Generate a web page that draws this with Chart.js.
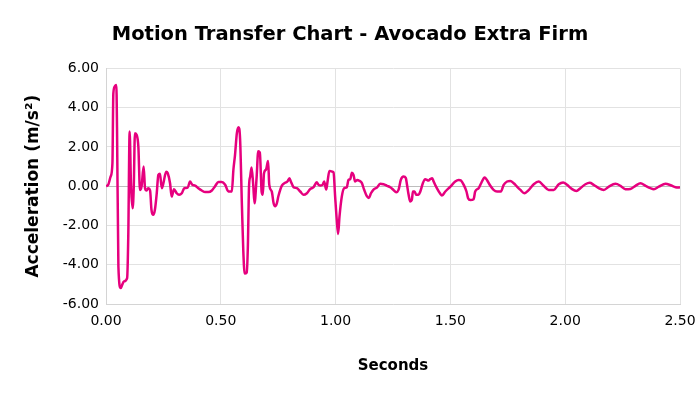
<!DOCTYPE html>
<html>
<head>
<meta charset="utf-8">
<script src="https://cdn.jsdelivr.net/npm/chart.js@4"></script>
<style>
  html, body { margin: 0; padding: 0; background: #fff; }
  #wrap { width: 700px; height: 394px; }
</style>
</head>
<body>
<div id="wrap"><canvas id="chart" width="700" height="394"></canvas></div>
<script>
const seconds = [
  0.000, 0.010, 0.020, 0.028, 0.032, 0.039, 0.045, 0.048, 0.054, 0.064,
  0.068, 0.078, 0.092, 0.097, 0.103, 0.109, 0.116, 0.121, 0.126, 0.134,
  0.141, 0.148, 0.155, 0.164, 0.170, 0.177, 0.183, 0.192, 0.198, 0.206,
  0.213, 0.221, 0.228, 0.235, 0.243, 0.250, 0.262, 0.269, 0.279, 0.286,
  0.296, 0.308, 0.318, 0.330, 0.341, 0.356, 0.366, 0.376, 0.388, 0.402,
  0.417, 0.432, 0.446, 0.461, 0.475, 0.490, 0.504, 0.519, 0.533, 0.548,
  0.555, 0.562, 0.570, 0.577, 0.584, 0.592, 0.598, 0.604, 0.613, 0.618,
  0.623, 0.628, 0.634, 0.641, 0.647, 0.656, 0.663, 0.670, 0.678, 0.683,
  0.688, 0.697, 0.706, 0.711, 0.722, 0.730, 0.737, 0.744, 0.751, 0.766,
  0.780, 0.790, 0.799, 0.805, 0.817, 0.831, 0.846, 0.860, 0.875, 0.889,
  0.904, 0.918, 0.925, 0.935, 0.944, 0.950, 0.959, 0.965, 0.973, 0.983,
  0.991, 0.998, 1.005, 1.011, 1.017, 1.027, 1.037, 1.049, 1.056, 1.064,
  1.071, 1.078, 1.085, 1.095, 1.104, 1.114, 1.124, 1.136, 1.145, 1.154,
  1.165, 1.180, 1.194, 1.209, 1.224, 1.238, 1.252, 1.264, 1.274, 1.284,
  1.296, 1.306, 1.311, 1.318, 1.325, 1.332, 1.337, 1.344, 1.351, 1.361,
  1.369, 1.380, 1.390, 1.405, 1.412, 1.421, 1.427, 1.441, 1.456, 1.463,
  1.478, 1.500, 1.521, 1.536, 1.546, 1.558, 1.570, 1.577, 1.587, 1.601,
  1.608, 1.623, 1.634, 1.649, 1.659, 1.674, 1.688, 1.703, 1.720, 1.732,
  1.747, 1.761, 1.776, 1.790, 1.805, 1.822, 1.841, 1.863, 1.885, 1.906,
  1.928, 1.950, 1.972, 1.991, 2.008, 2.030, 2.049, 2.066, 2.088, 2.107,
  2.124, 2.146, 2.168, 2.190, 2.219, 2.241, 2.262, 2.284, 2.306, 2.328,
  2.350, 2.371, 2.386, 2.408, 2.437, 2.459, 2.481, 2.500
];
const acceleration = [
  0.00, 0.08, 0.49, 1.17, 4.73, 5.10, 5.15, 3.00, -4.09, -5.19,
  -5.10, -4.85, -4.68, -2.56, 2.78, -0.02, -1.12, 0.00, 2.70, 2.60,
  2.00, -0.19, 0.00, 1.00, -0.10, -0.22, -0.10, -0.22, -1.20, -1.46,
  -1.20, -0.36, 0.58, 0.63, -0.10, 0.15, 0.74, 0.66, 0.15, -0.53,
  -0.15, -0.36, -0.44, -0.36, -0.10, -0.07, 0.24, 0.07, 0.03, -0.10,
  -0.22, -0.30, -0.30, -0.22, 0.00, 0.22, 0.22, 0.07, -0.27, -0.27,
  0.85, 1.60, 2.70, 3.00, 2.40, -1.00, -3.30, -4.45, -4.40, -3.00,
  0.00, 0.49, 0.95, 0.10, -0.87, 0.45, 1.78, 1.72, -0.30, -0.43,
  0.65, 0.85, 1.28, 0.08, -0.27, -0.87, -1.02, -0.87, -0.50, 0.03,
  0.17, 0.24, 0.41, 0.24, -0.05, -0.10, -0.27, -0.44, -0.36, -0.15,
  -0.05, 0.20, 0.08, 0.03, 0.08, 0.24, -0.17, 0.24, 0.78, 0.75,
  0.70, -0.53, -1.71, -2.43, -1.54, -0.53, -0.10, -0.05, 0.32, 0.36,
  0.69, 0.58, 0.24, 0.32, 0.27, 0.17, -0.17, -0.51, -0.60, -0.36,
  -0.17, -0.07, 0.12, 0.10, 0.02, -0.05, -0.19, -0.31, -0.19, 0.32,
  0.49, 0.41, 0.07, -0.44, -0.78, -0.70, -0.27, -0.27, -0.44, -0.44,
  -0.27, 0.15, 0.36, 0.29, 0.36, 0.41, 0.24, -0.10, -0.39, -0.48,
  -0.27, -0.02, 0.24, 0.32, 0.29, 0.07, -0.27, -0.61, -0.70, -0.66,
  -0.27, -0.10, 0.15, 0.44, 0.32, 0.02, -0.19, -0.27, -0.27, 0.07,
  0.24, 0.27, 0.15, -0.02, -0.19, -0.36, -0.20, 0.10, 0.24, 0.02,
  -0.19, -0.19, 0.10, 0.19, 0.07, -0.15, -0.24, -0.10, 0.10, 0.17,
  0.07, -0.10, -0.19, -0.02, 0.12, 0.02, -0.15, -0.14, 0.02, 0.15,
  0.02, -0.10, -0.15, -0.02, 0.12, 0.05, -0.05, -0.07
];
const xTicks = [0, 0.5, 1, 1.5, 2, 2.5];
const yTicks = [-6, -4, -2, 0, 2, 4, 6];

const points = seconds.map((s, i) => ({ x: s, y: acceleration[i] }));
const FONT = "'DejaVu Sans', Verdana, sans-serif";

new Chart(document.querySelector('#chart'), {
    type: 'line',
    data: {
        datasets: [{
            label: 'Avocado Extra Firm',
            data: points,
            borderColor: '#e6007e',
            borderWidth: 2.5,
            pointRadius: 0,
            cubicInterpolationMode: 'monotone',
            fill: false
        }]
    },
    options: {
        responsive: false,
        animation: false,
        layout: { padding: { left: 20, right: 20, top: 0, bottom: 0 } },
        plugins: {
            legend: { display: false },
            tooltip: { enabled: false },
            title: {
                display: true,
                text: 'Motion Transfer Chart - Avocado Extra Firm',
                color: '#000',
                font: { family: FONT, size: 19.5, weight: 'bold', lineHeight: 1.2 },
                padding: { top: 23, bottom: 22 }
            }
        },
        scales: {
            x: {
                type: 'linear',
                min: xTicks[0],
                max: xTicks[xTicks.length - 1],
                afterBuildTicks: s => { s.ticks = xTicks.map(v => ({ value: v })); },
                afterFit: s => { s.height = 90; s.paddingRight = 0; s.paddingLeft = 0; },
                ticks: {
                    color: '#000',
                    font: { family: FONT, size: 14 },
                    padding: 9,
                    maxRotation: 0,
                    callback: v => v.toFixed(2)
                },
                grid: { color: '#e2e2e2', drawTicks: false },
                border: { color: '#d4d4d4' },
                title: {
                    display: true,
                    text: 'Seconds',
                    color: '#000',
                    font: { family: FONT, size: 15, weight: 'bold', lineHeight: 1.2 },
                    padding: { top: 0, bottom: 19 }
                }
            },
            y: {
                min: yTicks[0],
                max: yTicks[yTicks.length - 1],
                afterBuildTicks: s => { s.ticks = yTicks.map(v => ({ value: v })); },
                afterFit: s => { s.width = 86; },
                ticks: {
                    color: '#000',
                    font: { family: FONT, size: 14 },
                    padding: 7,
                    callback: v => v.toFixed(2)
                },
                grid: {
                    color: ctx => ctx.tick && ctx.tick.value === 0 ? '#bdbdbd' : '#e2e2e2',
                    drawTicks: false
                },
                border: { color: '#d4d4d4' },
                title: {
                    display: true,
                    text: 'Acceleration (m/s²)',
                    color: '#000',
                    font: { family: FONT, size: 17, weight: 'bold', lineHeight: 1.2 },
                    padding: { top: 3, bottom: 0 }
                }
            }
        }
    }
});
</script>
</body>
</html>
